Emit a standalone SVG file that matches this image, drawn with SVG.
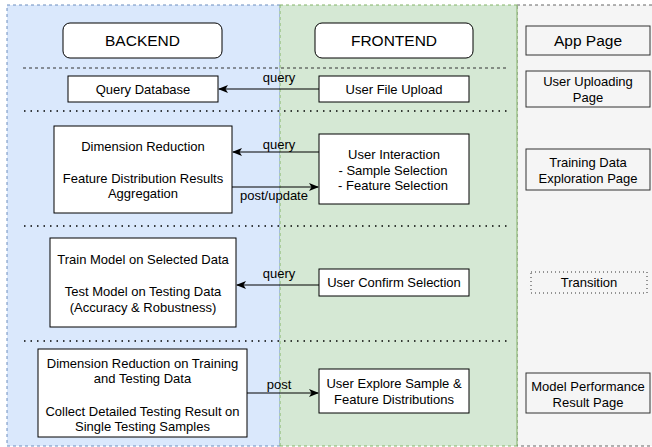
<svg xmlns="http://www.w3.org/2000/svg" width="652" height="447" viewBox="0 0 652 447">
<defs>
<style>
text{font-family:"Liberation Sans",Arial,sans-serif;font-size:13px;fill:#000;text-anchor:middle}
.big{font-size:15.5px}
.box{fill:#fff;stroke:#000;stroke-width:1}
.conn{stroke:#000;stroke-width:1;fill:none}
.sep{stroke:#000;stroke-width:1.5;stroke-dasharray:1.5 5;fill:none}
</style>
<marker id="arr" viewBox="0 0 10 8" refX="9" refY="4" markerWidth="10" markerHeight="8" markerUnits="userSpaceOnUse" orient="auto">
<path d="M0,0 L10,4 L0,8 L2.5,4 z" fill="#000"/>
</marker>
</defs>
<g id="lanes">
<rect x="517" y="5" width="140" height="441" fill="#f5f5f5" stroke="#666" stroke-width="1" stroke-dasharray="3 3"/>
<rect x="7" y="5" width="273" height="441" fill="#dae8fc" stroke="#6c8ebf" stroke-width="1" stroke-dasharray="3 3"/>
<rect x="280" y="5" width="237" height="441" fill="#d5e8d4" stroke="none"/>
<path d="M280,5 H517 M280,446 H517 M280,5 V446" stroke="#82b366" stroke-width="1" stroke-dasharray="3 3" fill="none"/>
<path d="M517,5 V446" stroke="#82b366" stroke-width="1" fill="none"/>
</g>
<g id="separators">
<path d="M23,68 H507" stroke="#333" stroke-width="1" stroke-dasharray="3 3" fill="none"/>
<path class="sep" d="M24,111 H507"/>
<path class="sep" d="M24,226 H507"/>
<path class="sep" d="M24,341 H507"/>
</g>
<g id="backend-header"><rect class="box" x="63" y="23" width="159" height="35" rx="7"/><text class="big" x="142.5" y="46">BACKEND</text></g>
<g id="frontend-header"><rect class="box" x="315" y="23" width="158" height="35" rx="7"/><text class="big" x="394" y="46">FRONTEND</text></g>
<g id="app-page"><rect x="526" y="26" width="124" height="29" fill="#f5f5f5" stroke="#333"/><text class="big" x="588" y="46">App Page</text></g>
<g id="query-database"><rect class="box" x="68" y="76" width="150" height="26"/><text x="143" y="93.5">Query Database</text></g>
<g id="user-file-upload"><rect class="box" x="319" y="76" width="150" height="26"/><text x="394" y="93.5">User File Upload</text></g>
<g id="user-uploading-page"><rect x="526" y="71" width="124" height="36" fill="#f5f5f5" stroke="#333"/><text x="588" y="85.5">User Uploading</text><text x="588" y="101.5">Page</text></g>
<g id="dimension-reduction"><rect class="box" x="54" y="126" width="178" height="87"/><text x="143" y="150.5">Dimension Reduction</text><text x="143" y="182.5">Feature Distribution Results</text><text x="143" y="197.5">Aggregation</text></g>
<g id="user-interaction"><rect class="box" x="319" y="134" width="150" height="70"/><text x="394" y="158.5">User Interaction</text><text x="393" y="174.5">- Sample Selection</text><text x="393" y="189.5">- Feature Selection</text></g>
<g id="training-data-page"><rect x="526" y="149" width="124" height="41" fill="#f5f5f5" stroke="#333"/><text x="588" y="166.5">Training Data</text><text x="588" y="182.5">Exploration Page</text></g>
<g id="train-model"><rect class="box" x="50" y="238" width="186" height="89"/><text x="143" y="263.5">Train Model on Selected Data</text><text x="143" y="295.5">Test Model on Testing Data</text><text x="143" y="312">(Accuracy &amp; Robustness)</text></g>
<g id="user-confirm"><rect class="box" x="319" y="269" width="150" height="27"/><text x="394" y="287">User Confirm Selection</text></g>
<g id="transition"><rect x="531" y="272" width="116" height="21" fill="#f5f5f5" stroke="#333" stroke-dasharray="1 3"/><text x="589" y="287">Transition</text></g>
<g id="dim-red-training"><rect class="box" x="38" y="349" width="209" height="88"/><text x="142.5" y="367.5">Dimension Reduction on Training</text><text x="142.5" y="383">and Testing Data</text><text x="142.5" y="415.5">Collect Detailed Testing Result on</text><text x="142.5" y="431">Single Testing Samples</text></g>
<g id="user-explore"><rect class="box" x="319" y="369" width="150" height="44"/><text x="394" y="387.5">User Explore Sample &amp;</text><text x="394" y="403.5">Feature Distributions</text></g>
<g id="model-performance-page"><rect x="526" y="373" width="124" height="40" fill="#f5f5f5" stroke="#333"/><text x="588" y="390.5">Model Performance</text><text x="588" y="406.5">Result Page</text></g>
<g id="connectors">
<path class="conn" d="M319,89 H219" stroke="#333" marker-end="url(#arr)"/>
<text x="279" y="81.5">query</text>
<path class="conn" d="M319,152 H233" marker-end="url(#arr)"/>
<text x="279" y="148.5">query</text>
<path class="conn" d="M232,187 H318" marker-end="url(#arr)"/>
<text x="274" y="199.5">post/update</text>
<path class="conn" d="M319,285 H237" marker-end="url(#arr)"/>
<text x="279" y="277.5">query</text>
<path class="conn" d="M247,393 H318" marker-end="url(#arr)"/>
<text x="279" y="388.5">post</text>
</g>
</svg>
